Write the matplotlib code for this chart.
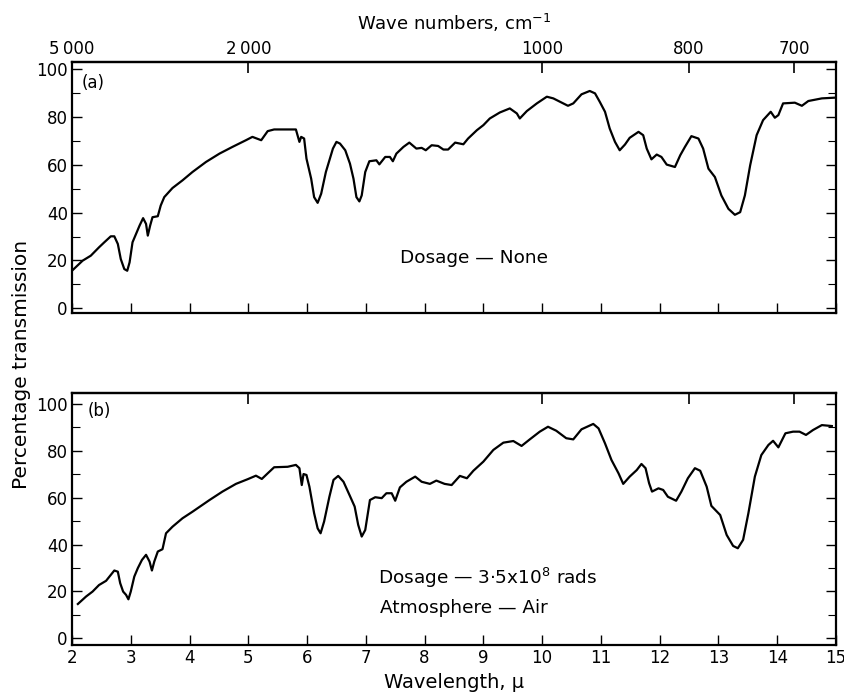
import numpy as np
import matplotlib
matplotlib.use("Agg")
import matplotlib.pyplot as plt
from matplotlib.ticker import MultipleLocator

# spectrum (a): no dosage
top_wl = [2.00, 2.18, 2.32, 2.46, 2.55, 2.66, 2.72, 2.78, 2.83, 2.89, 2.94, 2.98, 3.03, 3.09, 3.15,
          3.21, 3.26, 3.29, 3.33, 3.37, 3.46, 3.51, 3.57, 3.71, 3.88, 4.05, 4.28, 4.51, 4.73, 4.96,
          5.07, 5.22, 5.33, 5.44, 5.81, 5.87, 5.90, 5.95, 5.99, 6.07, 6.12, 6.18, 6.24, 6.32, 6.44,
          6.50, 6.56, 6.65, 6.73, 6.79, 6.84, 6.89, 6.93, 6.99, 7.06, 7.18, 7.23, 7.33, 7.41, 7.46,
          7.52, 7.64, 7.74, 7.86, 7.95, 8.02, 8.12, 8.23, 8.32, 8.40, 8.52, 8.66, 8.74, 8.89, 9.00,
          9.11, 9.28, 9.45, 9.57, 9.62, 9.74, 9.91, 10.08, 10.19, 10.36, 10.44, 10.53, 10.67, 10.81,
          10.90, 10.98, 11.07, 11.15, 11.24, 11.32, 11.41, 11.49, 11.64, 11.72, 11.78, 11.86, 11.95,
          12.03, 12.12, 12.26, 12.35, 12.43, 12.54, 12.66, 12.74, 12.83, 12.94, 13.05, 13.17, 13.28,
          13.37, 13.45, 13.54, 13.65, 13.76, 13.89, 13.96, 14.02, 14.10, 14.30, 14.42, 14.53, 14.76,
          14.98]
top_tr = [15.7, 19.9, 22.0, 25.5, 27.6, 30.1, 30.1, 26.9, 20.6, 16.4, 15.7, 19.2, 27.6, 31.1, 34.6,
          37.7, 35.3, 30.4, 34.6, 38.1, 38.5, 43.0, 46.5, 50.3, 53.5, 57.0, 61.2, 64.7, 67.5, 70.3,
          71.7, 70.3, 74.1, 74.8, 74.8, 69.6, 71.7, 71.0, 62.6, 54.2, 46.5, 44.1, 47.9, 57.0, 66.8,
          69.6, 68.9, 66.1, 60.5, 54.2, 46.5, 44.7, 47.2, 57.0, 61.5, 61.9, 60.2, 63.3, 63.3, 61.5,
          64.7, 67.5, 69.3, 66.8, 67.1, 66.1, 68.2, 67.9, 66.4, 66.4, 69.3, 68.6, 71.0, 74.5, 76.6,
          79.4, 81.9, 83.6, 81.5, 79.4, 82.5, 85.7, 88.5, 87.8, 85.7, 84.7, 85.7, 89.5, 90.9,
          89.9, 86.4, 82.2, 75.2, 69.6, 66.1, 68.5, 71.3, 73.8, 72.4, 66.8, 62.3, 64.3,
          63.3, 60.1, 59.1, 64.0, 67.5, 72.0, 71.0, 66.8, 58.4, 54.9, 47.2, 41.6, 39.1,
          40.2, 47.2, 59.8, 72.4, 78.7, 82.2, 79.7, 80.8, 85.7, 86.0, 84.7, 86.7, 87.8,
          88.1]

# spectrum (b): 3.5x10^8 rads in air
bot_wl = [2.10, 2.24, 2.35, 2.46, 2.58, 2.72, 2.78, 2.82, 2.87, 2.92, 2.96, 3.00, 3.06, 3.12, 3.19,
          3.26, 3.32, 3.36, 3.40, 3.46, 3.54, 3.60, 3.71, 3.88, 4.05, 4.34, 4.56, 4.79, 4.99, 5.13,
          5.23, 5.33, 5.44, 5.67, 5.81, 5.87, 5.91, 5.94, 5.99, 6.04, 6.12, 6.18, 6.23, 6.29, 6.38,
          6.45, 6.53, 6.62, 6.73, 6.81, 6.87, 6.93, 6.99, 7.07, 7.16, 7.27, 7.35, 7.44, 7.50, 7.58,
          7.69, 7.84, 7.95, 8.09, 8.20, 8.34, 8.46, 8.60, 8.72, 8.83, 9.00, 9.17, 9.34, 9.51, 9.65,
          9.79, 9.96, 10.10, 10.24, 10.41, 10.53, 10.67, 10.87, 10.96, 11.07, 11.18, 11.30, 11.38,
          11.49, 11.61, 11.69, 11.76, 11.82, 11.87, 11.98, 12.06, 12.14, 12.28, 12.37, 12.48, 12.60,
          12.69, 12.80, 12.88, 13.03, 13.14, 13.25, 13.33, 13.42, 13.51, 13.62, 13.73, 13.85, 13.93,
          14.02, 14.14, 14.27, 14.38, 14.49, 14.61, 14.76, 14.93]
bot_tr = [14.6, 17.8, 19.9, 22.7, 24.5, 28.9, 28.4, 23.5, 19.9, 18.5, 16.6, 19.9, 26.3, 29.9, 33.4,
          35.6, 32.7, 28.9, 32.7, 37.0, 38.0, 44.8, 47.6, 51.2, 54.0, 59.0, 62.6, 65.9, 67.9, 69.4,
          68.0, 70.4, 73.0, 73.2, 74.0, 72.6, 65.4, 70.1, 69.7, 64.7, 53.4, 46.9, 44.8, 49.8, 60.4,
          67.6, 69.3, 66.8, 60.7, 56.2, 48.4, 43.4, 46.2, 59.0, 60.2, 59.8, 61.9, 61.9, 58.7, 64.4,
          66.8, 69.0, 66.8, 65.9, 67.3, 65.9, 65.4, 69.3, 68.3, 71.5, 75.4, 80.4, 83.5, 84.2, 82.1,
          84.9, 88.2, 90.3, 88.6, 85.4, 84.9, 89.2, 91.5, 89.6, 83.2, 76.1, 70.4, 65.9,
          69.0, 71.8, 74.4, 72.6, 66.2, 62.6, 64.0, 63.3, 60.4, 58.7, 62.6, 68.3, 72.6,
          71.5, 64.7, 56.5, 52.6, 44.1, 39.4, 38.4, 42.0, 53.4, 69.0, 78.2, 82.5, 84.3,
          81.5, 87.5, 88.2, 88.2, 86.8, 88.9, 91.0, 90.6]

wl_ticks = list(range(2, 16))
wn_ticks = [5000, 2000, 1000, 800, 700]
wn_labels = ["5\u2009000", "2\u2009000", "1000", "800", "700"]
tr_ticks = [0, 20, 40, 60, 80, 100]

plt.rcParams['font.family'] = ['DejaVu Sans']
FS = 12
ANN = 13.3

fig = plt.figure(figsize=(8.45, 6.99), dpi=100)
ax1 = fig.add_axes([0.0852, 0.5518, 0.9041, 0.3591])
ax2 = fig.add_axes([0.0852, 0.0773, 0.9041, 0.3601])


def wn(x):
    x = np.asarray(x, dtype=float)
    with np.errstate(divide='ignore'):
        return 1e4 / x


def style(ax, ylim, show_xlabels, show_wnlabels):
    ax.set_xlim(2, 15)
    ax.set_ylim(*ylim)
    for s in ax.spines.values():
        s.set_linewidth(1.6)
    ax.set_xticks(wl_ticks)
    ax.set_yticks(tr_ticks)
    ax.yaxis.set_minor_locator(MultipleLocator(10))
    ax.tick_params(axis='both', which='major', direction='in', length=7, width=1.0,
                   labelsize=FS, top=False, right=True, pad=3)
    ax.tick_params(axis='y', which='minor', direction='in', length=6, width=0.8, right=True)
    ax.tick_params(axis='y', which='both', labelright=False)
    if not show_xlabels:
        ax.tick_params(axis='x', labelbottom=False)
    sec = ax.secondary_xaxis('top', functions=(wn, wn))
    sec.set_xticks(wn_ticks, wn_labels if show_wnlabels else [''] * len(wn_ticks))
    sec.tick_params(direction='in', length=8, width=1.2, labelsize=FS, pad=3)
    sec.spines['top'].set_linewidth(1.6)
    return sec


sec1 = style(ax1, (-2.1, 102.9), False, True)
sec2 = style(ax2, (-2.9, 104.6), True, False)

ax1.plot(top_wl, top_tr, color='black', lw=1.6, solid_joinstyle='round')
ax2.plot(bot_wl, bot_tr, color='black', lw=1.6, solid_joinstyle='round')

ax1.text(2.17, 94.4, "(a)", fontsize=FS, va='center', ha='left')
ax2.text(2.27, 97, "(b)", fontsize=FS, va='center', ha='left')

ax1.text(7.58, 20.9, "Dosage \u2014 None", fontsize=ANN, va='center', ha='left')
ax2.text(7.21, 25.6, "Dosage \u2014 3\u00b75x10$^{8}$ rads", fontsize=ANN, va='center', ha='left')
ax2.text(7.24, 12.8, "Atmosphere \u2014 Air", fontsize=ANN, va='center', ha='left')

sec1.set_xlabel("Wave numbers, cm$^{-1}$", fontsize=13, labelpad=7)
ax2.set_xlabel("Wavelength, \u03bc", fontsize=14, labelpad=4)
fig.text(0.025, 0.478, "Percentage transmission", rotation=90, fontsize=14.5,
         va='center', ha='center')

fig.savefig("out.png", dpi=100)
